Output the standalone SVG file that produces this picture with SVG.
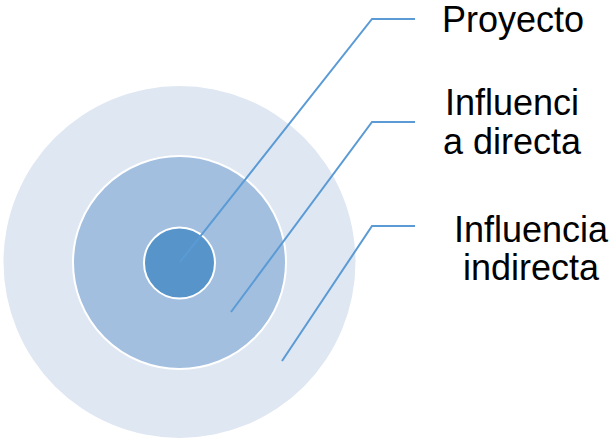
<svg xmlns="http://www.w3.org/2000/svg" width="613" height="438" viewBox="0 0 613 438">
<style>
.lbl{font-family:"Liberation Sans",Arial,sans-serif;font-size:36px;fill:#000;text-anchor:middle}
.conn{fill:none;stroke:#5B9BD5;stroke-width:2}
</style>
<rect width="613" height="438" fill="#fff"/>
<g id="outer"><circle cx="179.5" cy="262" r="176" fill="#DFE7F2"/></g>
<g id="middle"><circle cx="179.5" cy="262.5" r="106.5" fill="#A2BFE0" stroke="#fff" stroke-width="2"/></g>
<g id="inner"><circle cx="179.5" cy="263" r="35.5" fill="#5694CA" stroke="#fff" stroke-width="2"/></g>
<g id="connectors">
<polyline class="conn" points="180,262 372,19 415,19"/>
<polyline class="conn" points="231,312 372,122 415,122"/>
<polyline class="conn" points="282,361 372,226 415,226"/>
</g>
<g id="label-proyecto"><text class="lbl" x="513" y="32">Proyecto</text></g>
<g id="label-directa"><text class="lbl" x="512" y="115">Influenci</text><text class="lbl" x="512" y="154">a directa</text></g>
<g id="label-indirecta"><text class="lbl" x="531" y="242">Influencia</text><text class="lbl" x="531" y="280">indirecta</text></g>
</svg>
